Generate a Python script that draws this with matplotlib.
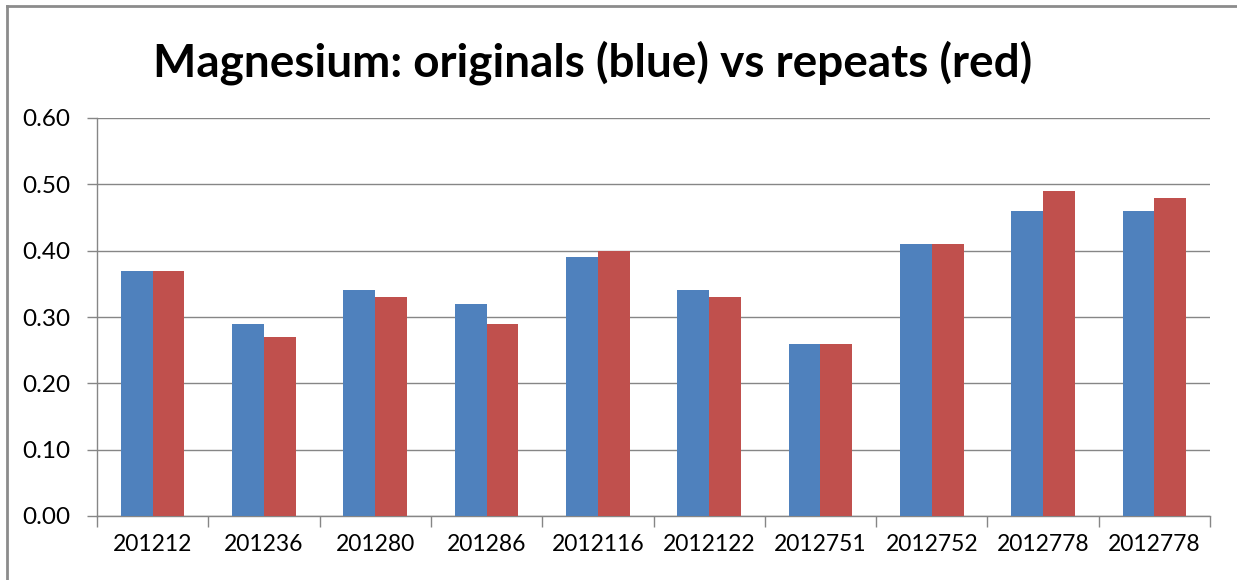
import matplotlib.pyplot as plt
import numpy as np
from matplotlib.lines import Line2D

# sample ids and magnesium values
samples = ['201212', '201236', '201280', '201286', '2012116',
           '2012122', '2012751', '2012752', '2012778', '2012778']
originals = [0.37, 0.29, 0.34, 0.32, 0.39, 0.34, 0.26, 0.41, 0.46, 0.46]
repeats = [0.37, 0.27, 0.33, 0.29, 0.40, 0.33, 0.26, 0.41, 0.49, 0.48]

plt.rcParams['font.family'] = ['Lato', 'DejaVu Sans']

W, H = 1237, 580
fig = plt.figure(figsize=(W / 100, H / 100), dpi=100)
ax = fig.add_axes([97 / W, 1 - 516 / H, (1210 - 97) / W, (516 - 118) / H])

x = np.arange(len(samples))
bw = 0.2857
ax.bar(x - bw / 2, originals, bw, color='#4F81BD', zorder=3)
ax.bar(x + bw / 2, repeats, bw, color='#C0504D', zorder=3)

ax.set_xlim(-0.5, len(samples) - 0.5)
ax.set_ylim(0, 0.6)
ax.set_yticks(np.arange(0, 0.61, 0.1))
ax.set_yticklabels([f'{v:.2f}' for v in np.arange(0, 0.61, 0.1)], fontsize=17.5)
ax.yaxis.grid(True, color='#868686', linewidth=1.0, zorder=0)

# category labels in the middle, tick marks on the boundaries
ax.set_xticks(x)
ax.set_xticklabels(samples, fontsize=16.5)
ax.tick_params(axis='x', which='major', length=0, pad=13)
ax.set_xticks(np.arange(-0.5, len(samples), 1), minor=True)
ax.tick_params(axis='x', which='minor', length=8, color='#868686', width=1.0)
ax.tick_params(axis='y', length=7, color='#868686', width=1.0, pad=12)

for s in ['top', 'right']:
    ax.spines[s].set_visible(False)
for s in ['left', 'bottom']:
    ax.spines[s].set_color('#868686')
    ax.spines[s].set_linewidth(1.0)

fig.text(593 / W, 1 - 63 / H, 'Magnesium: originals (blue) vs repeats (red)',
         ha='center', va='center', fontsize=33, fontweight='bold')

# chart frame (cropped on the right and bottom)
fig.add_artist(Line2D([7 / W, 7 / W], [0, 1 - 6 / H], color='#8c8c8c', linewidth=2))
fig.add_artist(Line2D([7 / W, 1], [1 - 6 / H, 1 - 6 / H], color='#8c8c8c', linewidth=2))

fig.savefig('out.png', dpi=100)
